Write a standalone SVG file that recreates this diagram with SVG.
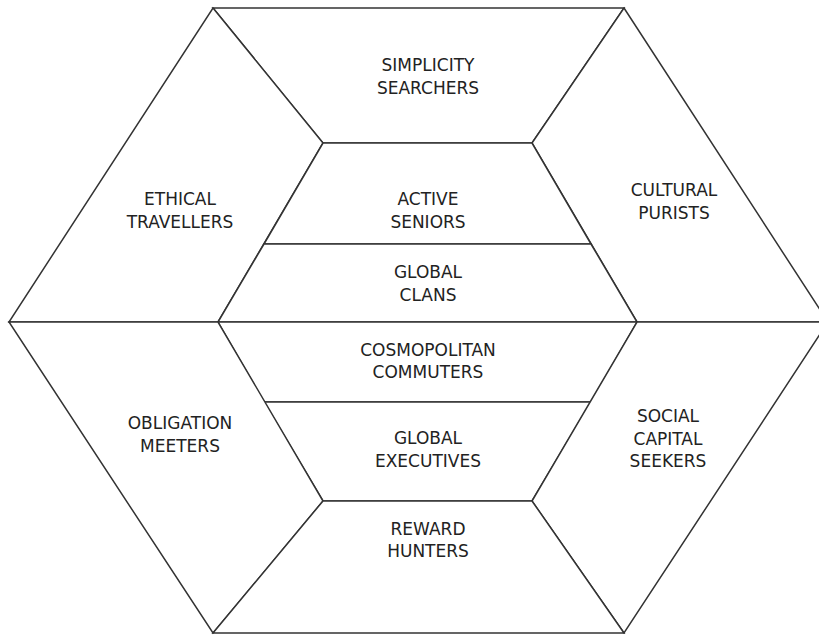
<svg xmlns="http://www.w3.org/2000/svg" width="819" height="635" viewBox="0 0 819 635">
<style>
.seg{fill:#fff;stroke:#333;stroke-width:1.5;stroke-linejoin:miter}
.lbl{font-family:"DejaVu Sans",Verdana,sans-serif;font-size:17px;fill:#222;text-anchor:middle}
</style>
<rect width="819" height="635" fill="#fff"/>
<g id="simplicity-searchers"><polygon class="seg" points="213,8 624,8 532,143 323,143"/><text class="lbl" x="428" y="71">SIMPLICITY</text><text class="lbl" x="428" y="94">SEARCHERS</text></g>
<g id="ethical-travellers"><polygon class="seg" points="213,8 323,143 218,322 9,322"/><text class="lbl" x="180" y="205">ETHICAL</text><text class="lbl" x="180" y="228">TRAVELLERS</text></g>
<g id="cultural-purists"><polygon class="seg" points="624,8 828,322 637,322 532,143"/><text class="lbl" x="674" y="196">CULTURAL</text><text class="lbl" x="674" y="219">PURISTS</text></g>
<g id="active-seniors"><polygon class="seg" points="323,143 532,143 591,244 264,244"/><text class="lbl" x="428" y="205">ACTIVE</text><text class="lbl" x="428" y="228">SENIORS</text></g>
<g id="global-clans"><polygon class="seg" points="264,244 591,244 637,322 218,322"/><text class="lbl" x="428" y="278">GLOBAL</text><text class="lbl" x="428" y="301">CLANS</text></g>
<g id="cosmopolitan-commuters"><polygon class="seg" points="218,322 637,322 591,402 264,402"/><text class="lbl" x="428" y="356">COSMOPOLITAN</text><text class="lbl" x="428" y="378">COMMUTERS</text></g>
<g id="global-executives"><polygon class="seg" points="264,402 591,402 532,501 323,501"/><text class="lbl" x="428" y="444">GLOBAL</text><text class="lbl" x="428" y="467">EXECUTIVES</text></g>
<g id="obligation-meeters"><polygon class="seg" points="9,322 218,322 323,501 213,633"/><text class="lbl" x="180" y="429">OBLIGATION</text><text class="lbl" x="180" y="452">MEETERS</text></g>
<g id="social-capital-seekers"><polygon class="seg" points="637,322 828,322 624,633 532,501"/><text class="lbl" x="668" y="422">SOCIAL</text><text class="lbl" x="668" y="445">CAPITAL</text><text class="lbl" x="668" y="467">SEEKERS</text></g>
<g id="reward-hunters"><polygon class="seg" points="323,501 532,501 624,633 213,633"/><text class="lbl" x="428" y="535">REWARD</text><text class="lbl" x="428" y="557">HUNTERS</text></g>
<g id="connectors"></g>
</svg>
